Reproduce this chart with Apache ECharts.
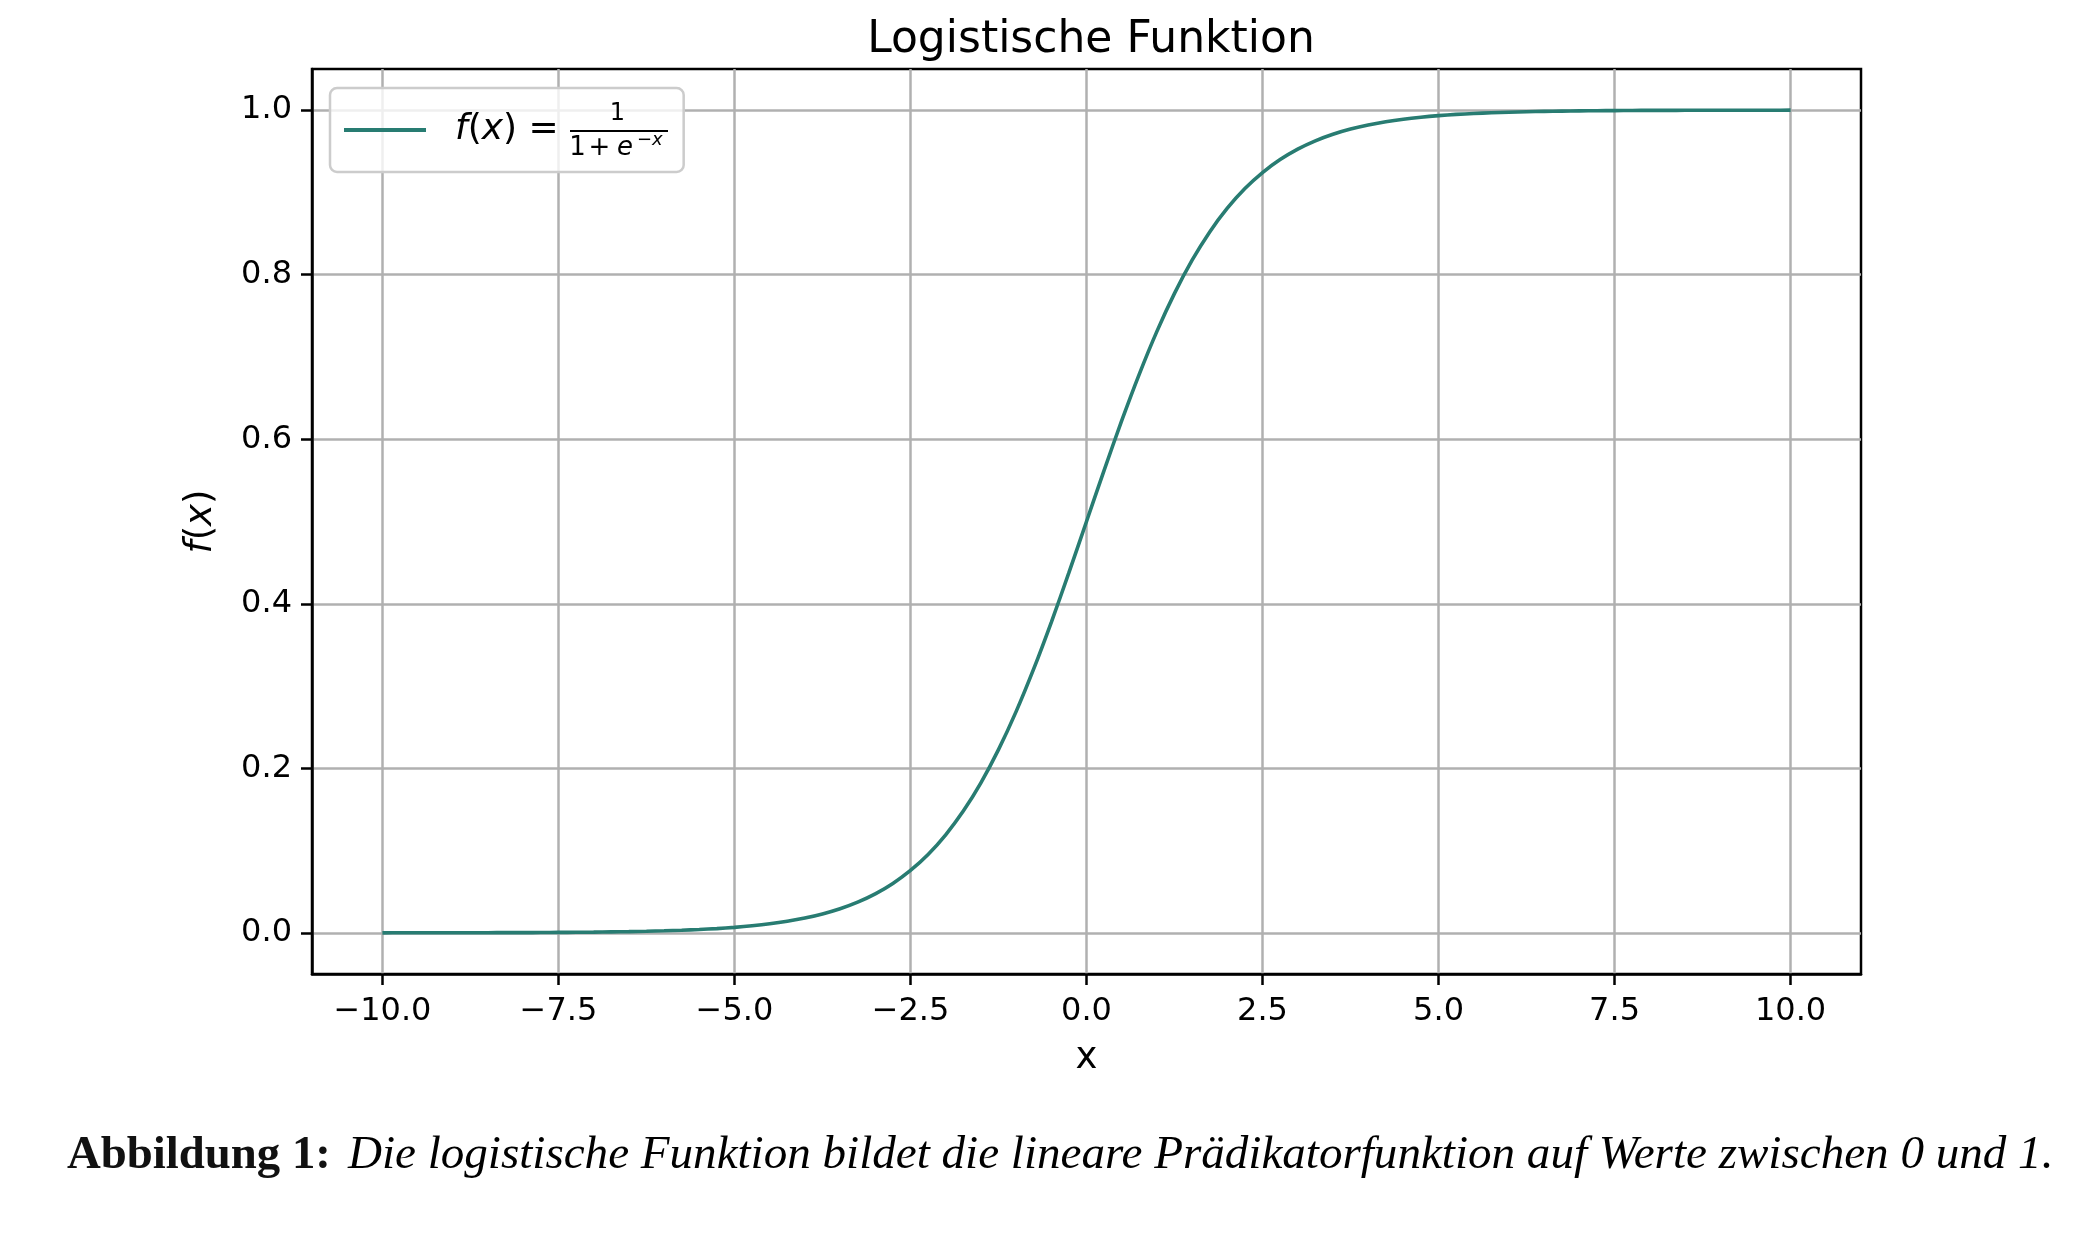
<!DOCTYPE html>
<html>
<head>
<meta charset="utf-8">
<script src="https://cdn.jsdelivr.net/npm/echarts@6/dist/echarts.min.js"></script>
<style>
html,body{margin:0;padding:0;background:#fff;}
#chart{width:2073px;height:1239px;}
</style>
</head>
<body>
<div id="chart"></div>
<script>
// ---- data ----
const chartTitle = 'Logistische Funktion';
const xAxisName = 'x';
const seriesName = 'f(x) = 1/(1+e^-x)';
const xTicks = [-10, -7.5, -5, -2.5, 0, 2.5, 5, 7.5, 10];
const yTicks = [0, 0.2, 0.4, 0.6, 0.8, 1.0];
const xValues = [
  -10, -9.75, -9.5, -9.25, -9, -8.75, -8.5, -8.25, -8, -7.75, -7.5, -7.25, -7, -6.75, -6.5, -6.25,
  -6, -5.75, -5.5, -5.25, -5, -4.75, -4.5, -4.25, -4, -3.75, -3.5, -3.25, -3, -2.75, -2.5, -2.25,
  -2, -1.75, -1.5, -1.25, -1, -0.75, -0.5, -0.25, 0, 0.25, 0.5, 0.75, 1, 1.25, 1.5, 1.75,
  2, 2.25, 2.5, 2.75, 3, 3.25, 3.5, 3.75, 4, 4.25, 4.5, 4.75, 5, 5.25, 5.5, 5.75,
  6, 6.25, 6.5, 6.75, 7, 7.25, 7.5, 7.75, 8, 8.25, 8.5, 8.75, 9, 9.25, 9.5, 9.75, 10];
const yValues = [
  0.0000, 0.0001, 0.0001, 0.0001, 0.0001, 0.0002, 0.0002, 0.0003, 0.0003, 0.0004, 0.0006, 0.0007, 0.0009, 0.0012, 0.0015, 0.0019,
  0.0025, 0.0032, 0.0041, 0.0052, 0.0067, 0.0086, 0.0110, 0.0141, 0.0180, 0.0230, 0.0293, 0.0373, 0.0474, 0.0601, 0.0759, 0.0953,
  0.1192, 0.1480, 0.1824, 0.2227, 0.2689, 0.3208, 0.3775, 0.4378, 0.5000, 0.5622, 0.6225, 0.6792, 0.7311, 0.7773, 0.8176, 0.8520,
  0.8808, 0.9047, 0.9241, 0.9399, 0.9526, 0.9627, 0.9707, 0.9770, 0.9820, 0.9859, 0.9890, 0.9914, 0.9933, 0.9948, 0.9959, 0.9968,
  0.9975, 0.9981, 0.9985, 0.9988, 0.9991, 0.9993, 0.9994, 0.9996, 0.9997, 0.9997, 0.9998, 0.9998, 0.9999, 0.9999, 0.9999, 0.9999, 1.0000];
const captionLabel = 'Abbildung 1:';
const captionText = 'Die logistische Funktion bildet die lineare Prädikatorfunktion auf Werte zwischen 0 und 1.';

const lineColor = '#287c72';
const gridColor = '#b0b0b0';
const sans = 'DejaVu Sans';
const serif = 'Liberation Serif';

// fit caption font sizes to the reference text widths
function fitSize(text, style, target) {
  const c = document.createElement('canvas').getContext('2d');
  c.font = style + ' 40px "' + serif + '"';
  return 40 * target / c.measureText(text).width;
}
const capBoldSize = Math.min(48, fitSize(captionLabel, 'bold', 264));
const capItSize = Math.min(50, fitSize(captionText, 'italic', 1706));

const chart = echarts.init(document.getElementById('chart'), null, {renderer: 'canvas'});
const seriesData = xValues.map((x, i) => [x, yValues[i]]);
const fmtMinus = s => s.replace('-', '\u2212');

const option = {
  animation: false,
  backgroundColor: '#ffffff',
  title: [
    {
      text: chartTitle,
      left: 1086, top: 14, textAlign: 'center',
      textStyle: {fontFamily: sans, fontSize: 44, fontWeight: 'normal', color: '#000'}
    },
    {
      text: '{b|' + captionLabel + '}{sp|}{i|' + captionText + '}',
      left: 62, top: 1127,
      textStyle: {
        fontWeight: 'normal',
        rich: {
          b: {fontFamily: serif, fontSize: capBoldSize, fontWeight: 'bold', color: '#111'},
          sp: {width: 17},
          i: {fontFamily: serif, fontSize: capItSize, fontStyle: 'italic', fontWeight: 'normal', color: '#000'}
        }
      }
    }
  ],
  grid: {left: 312, right: 212, top: 69, bottom: 265, show: true, borderColor: '#000', borderWidth: 2.5, backgroundColor: 'transparent'},
  legend: {
    left: 330, top: 88,
    orient: 'horizontal',
    data: [seriesName],
    icon: 'rect',
    itemWidth: 82, itemHeight: 4,
    padding: [24, 125, 24, 14],
    backgroundColor: 'rgba(255,255,255,0.8)',
    borderColor: '#cccccc', borderWidth: 2.5, borderRadius: 7,
    formatter: function () { return '{sp|}{it|f}{n|(}{it|x}{n|) =}'; },
    textStyle: {
      rich: {
        sp: {width: 24},
        it: {fontFamily: sans, fontSize: 36, fontStyle: 'italic', color: '#000'},
        n: {fontFamily: sans, fontSize: 36, color: '#000'}
      }
    }
  },
  xAxis: {
    type: 'value', min: -11, max: 11,
    name: xAxisName, nameLocation: 'middle', nameGap: 66,
    nameTextStyle: {fontFamily: sans, fontSize: 37, color: '#000'},
    axisLine: {show: true, onZero: false, lineStyle: {color: '#000', width: 2.5}},
    axisTick: {show: true, length: 11, lineStyle: {color: '#000', width: 2.5}, customValues: xTicks},
    axisLabel: {fontFamily: sans, fontSize: 32, color: '#000', margin: 22, customValues: xTicks,
      formatter: v => fmtMinus(Number(v).toFixed(1))},
    splitLine: {show: true, lineStyle: {color: gridColor, width: 2.5}}
  },
  yAxis: {
    type: 'value', min: -0.05, max: 1.05,
    name: '{it|f}{n|(}{it|x}{n|)}', nameLocation: 'middle', nameGap: 92,
    nameTextStyle: {
      rich: {
        it: {fontFamily: sans, fontSize: 37, fontStyle: 'italic', color: '#000'},
        n: {fontFamily: sans, fontSize: 37, color: '#000'}
      }
    },
    axisLine: {show: true, onZero: false, lineStyle: {color: '#000', width: 2.5}},
    axisTick: {show: true, length: 11, lineStyle: {color: '#000', width: 2.5}, customValues: yTicks},
    axisLabel: {fontFamily: sans, fontSize: 32, color: '#000', margin: 20, customValues: yTicks,
      formatter: v => fmtMinus(Number(v).toFixed(1))},
    splitLine: {show: true, lineStyle: {color: gridColor, width: 2.5}}
  },
  series: [{
    name: seriesName,
    type: 'line',
    data: seriesData,
    symbol: 'none',
    smooth: 0.3,
    lineStyle: {color: lineColor, width: 3.6},
    itemStyle: {color: lineColor},
    z: 3
  }],
  graphic: [
    {type: 'text', z: 100, x: 617.5, y: 114, style: {text: '1', fontFamily: sans, fontSize: 24, fill: '#000', align: 'center', verticalAlign: 'middle'}},
    {type: 'line', z: 100, shape: {x1: 570, y1: 131, x2: 668, y2: 131}, style: {stroke: '#000', lineWidth: 2}},
    {type: 'text', z: 100, x: 577.5, y: 148, style: {text: '1', fontFamily: sans, fontSize: 26, fill: '#000', align: 'center', verticalAlign: 'middle'}},
    {type: 'text', z: 100, x: 599.5, y: 148, style: {text: '+', fontFamily: sans, fontSize: 26, fill: '#000', align: 'center', verticalAlign: 'middle'}},
    {type: 'text', z: 100, x: 625, y: 148, style: {text: 'e', fontFamily: sans, fontSize: 26, fontStyle: 'italic', fill: '#000', align: 'center', verticalAlign: 'middle'}},
    {type: 'text', z: 100, x: 637, y: 140, style: {text: '{m|\u2212}{i|x}', fontFamily: sans, fontSize: 18, fill: '#000', align: 'left', verticalAlign: 'middle',
      rich: {m: {fontFamily: sans, fontSize: 18, fill: '#000'}, i: {fontFamily: sans, fontSize: 18, fontStyle: 'italic', fill: '#000'}}}}
  ]
};
chart.setOption(option);
</script>
</body>
</html>
